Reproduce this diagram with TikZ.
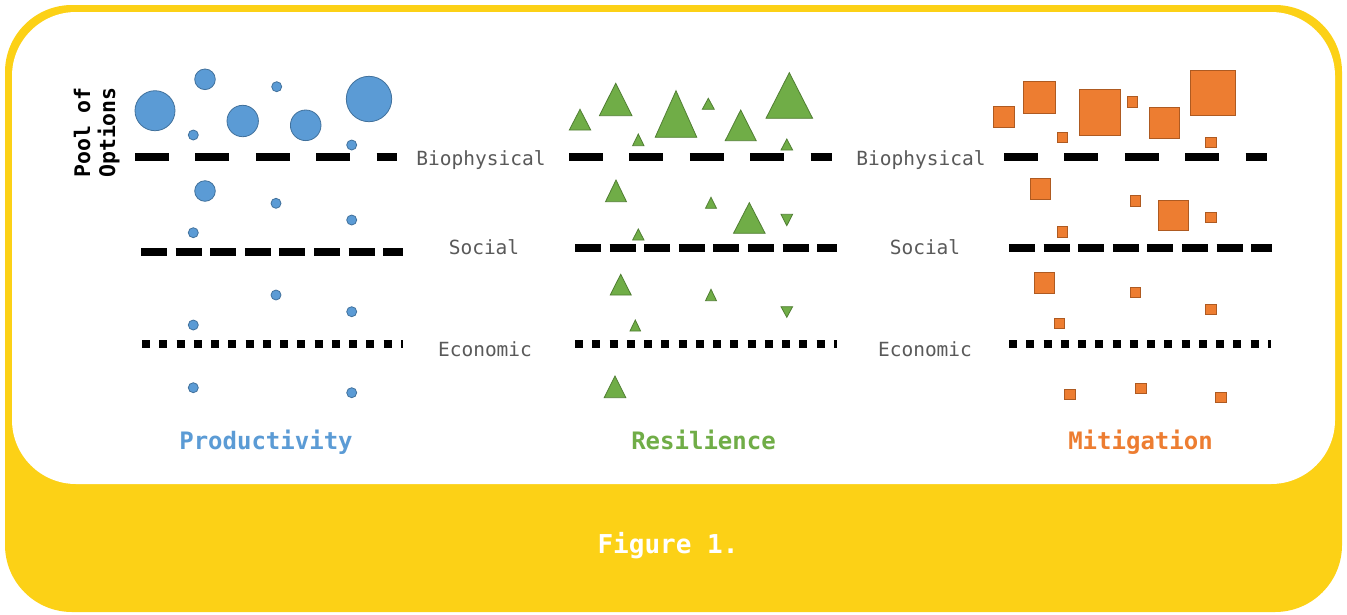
\documentclass[tikz,border=0pt]{standalone}
\usepackage{fontspec}
\newfontfamily\monofnt{DejaVu Sans Mono}
\definecolor{ybg}{HTML}{FCD116}
\definecolor{cblue}{HTML}{5B9BD5}
\definecolor{cbluedk}{HTML}{41719C}
\definecolor{cgreen}{HTML}{70AD47}
\definecolor{cgreendk}{HTML}{507E32}
\definecolor{corange}{HTML}{ED7D31}
\definecolor{corangedk}{HTML}{AE5A21}
\definecolor{lblgray}{HTML}{595959}
\tikzset{
  circ/.style={fill=cblue,draw=cbluedk,line width=0.8pt},
  tri/.style={fill=cgreen,draw=cgreendk,line width=0.8pt},
  sq/.style={fill=corange,draw=corangedk,line width=0.8pt},
  bioline/.style={line width=8pt,dash pattern=on 34pt off 26.4pt},
  socline/.style={line width=8pt,dash pattern=on 26pt off 8.6pt},
  ecoline/.style={line width=8pt,dash pattern=on 8pt off 9.25pt},
  lbl/.style={inner sep=0pt,anchor=base,text=lblgray,font=\monofnt\fontsize{19.5}{23}\selectfont},
  ttl/.style={inner sep=0pt,anchor=base,font=\monofnt\bfseries\fontsize{24}{28}\selectfont},
  pool/.style={inner sep=0pt,anchor=base west,rotate=90,font=\monofnt\bfseries\fontsize{21.5}{25}\selectfont}
}
\begin{document}
\begin{tikzpicture}[x=1pt,y=-1pt]
\useasboundingbox (0,0) rectangle (1347,614);
\fill[ybg,rounded corners=67pt] (5,5) rectangle (1342,612);
\fill[white,rounded corners=64pt] (12,12) rectangle (1335,484);

% separator lines
\coordinate (lb1) at (135,157); \coordinate (lb2) at (397,157);
\coordinate (ls1) at (141,252); \coordinate (ls2) at (403,252);
\coordinate (le1) at (142,344); \coordinate (le2) at (403,344);
\coordinate (mb1) at (569,157); \coordinate (mb2) at (832,157);
\coordinate (ms1) at (575,248); \coordinate (ms2) at (837,248);
\coordinate (me1) at (575,344); \coordinate (me2) at (837,344);
\coordinate (rb1) at (1004,157); \coordinate (rb2) at (1267,157);
\coordinate (rs1) at (1009,248); \coordinate (rs2) at (1272,248);
\coordinate (re1) at (1009,344); \coordinate (re2) at (1271,344);
\draw[bioline] (lb1) -- (lb2);
\draw[socline] (ls1) -- (ls2);
\draw[ecoline] (le1) -- (le2);
\draw[bioline] (mb1) -- (mb2);
\draw[socline] (ms1) -- (ms2);
\draw[ecoline] (me1) -- (me2);
\draw[bioline] (rb1) -- (rb2);
\draw[socline] (rs1) -- (rs2);
\draw[ecoline] (re1) -- (re2);

% circles
\foreach \cx/\cy/\r in {155/110.7/20, 205/79.3/10.3, 276.7/86.7/5, 193.3/135/5,
  242.7/121/15.7, 305.7/125.3/15.3, 369/99/22.7, 351.7/145/5,
  205/191/10.3, 276/203.3/5, 351.7/220/5, 193.3/232.7/5,
  276/295/5, 351.7/311.7/5, 193.3/325/5,
  193.3/387.7/5, 351.7/392.7/5}
  \draw[circ] (\cx,\cy) circle[radius=\r];

% triangles: apex x, apex y, base y, half width
\foreach \ax/\ay/\by/\hw in {580/109.3/130/10.7, 615.7/83.3/115.7/16.3,
  638.3/134/145.7/5.7, 676/90.7/137.3/20.8, 708.3/98.3/109.3/6,
  740.7/110/140.7/15.5, 789.3/72.7/118.3/23.3, 786.8/139/150/5.8,
  616/180/201.7/10.5, 711/197.3/208.3/5.5, 749.3/202.7/233.3/15.8,
  786.8/225.7/214.3/5.8, 638.3/229/240/5.7,
  620.7/274.3/295/10.5, 711/289.3/300.7/5.5, 786.8/317.3/306.7/5.8,
  635.3/320/331/5.3, 615/376/397.7/10.8}
  \draw[tri,line join=miter] (\ax,\ay) -- (\ax-\hw,\by) -- (\ax+\hw,\by) -- cycle;

% squares
\foreach \xa/\ya/\xb/\yb in {993.3/106.7/1014/127.3, 1023.3/81.7/1055.7/113.3,
  1057.3/132.3/1067.7/142.7, 1079.3/89/1120/135, 1127/96/1137.7/107,
  1149/107.7/1179.7/138, 1190/70/1235.7/115.7, 1205/137.3/1216/147.7,
  1030/178.3/1050.7/199, 1130/195.3/1140.7/206, 1158.3/200.3/1188.7/230.7,
  1205/212/1216/222.3, 1057.3/226.7/1067.7/237.3,
  1034.3/272.7/1054.7/293, 1130/287.3/1140.7/297.7, 1205/304/1216/314.3,
  1054/318.3/1064.3/328.7,
  1064.3/389/1075/399.3, 1135.3/383.3/1146/393.7, 1215.7/392.3/1226/402.7}
  \draw[sq] (\xa,\ya) rectangle (\xb,\yb);

% labels
\node[lbl] (bio1) at (481,165) {Biophysical};
\node[lbl] (soc1) at (484,254.3) {Social};
\node[lbl] (eco1) at (485,356.7) {Economic};
\node[lbl] (bio2) at (921,165) {Biophysical};
\node[lbl] (soc2) at (925,254.3) {Social};
\node[lbl] (eco2) at (925,356.7) {Economic};

\node[pool] (pool1) at (90,178) {Pool of};
\node[pool] (pool2) at (115,178) {Options};

\node[ttl,text=cblue] (prod) at (266,449.3) {Productivity};
\node[ttl,text=cgreen] (resi) at (703.5,449.3) {Resilience};
\node[ttl,text=corange] (miti) at (1140.5,449.3) {Mitigation};

\node[inner sep=0pt,anchor=base,text=white,font=\monofnt\bfseries\fontsize{26}{30}\selectfont] (fig) at (668,553.3) {Figure 1.};
\end{tikzpicture}
\end{document}
